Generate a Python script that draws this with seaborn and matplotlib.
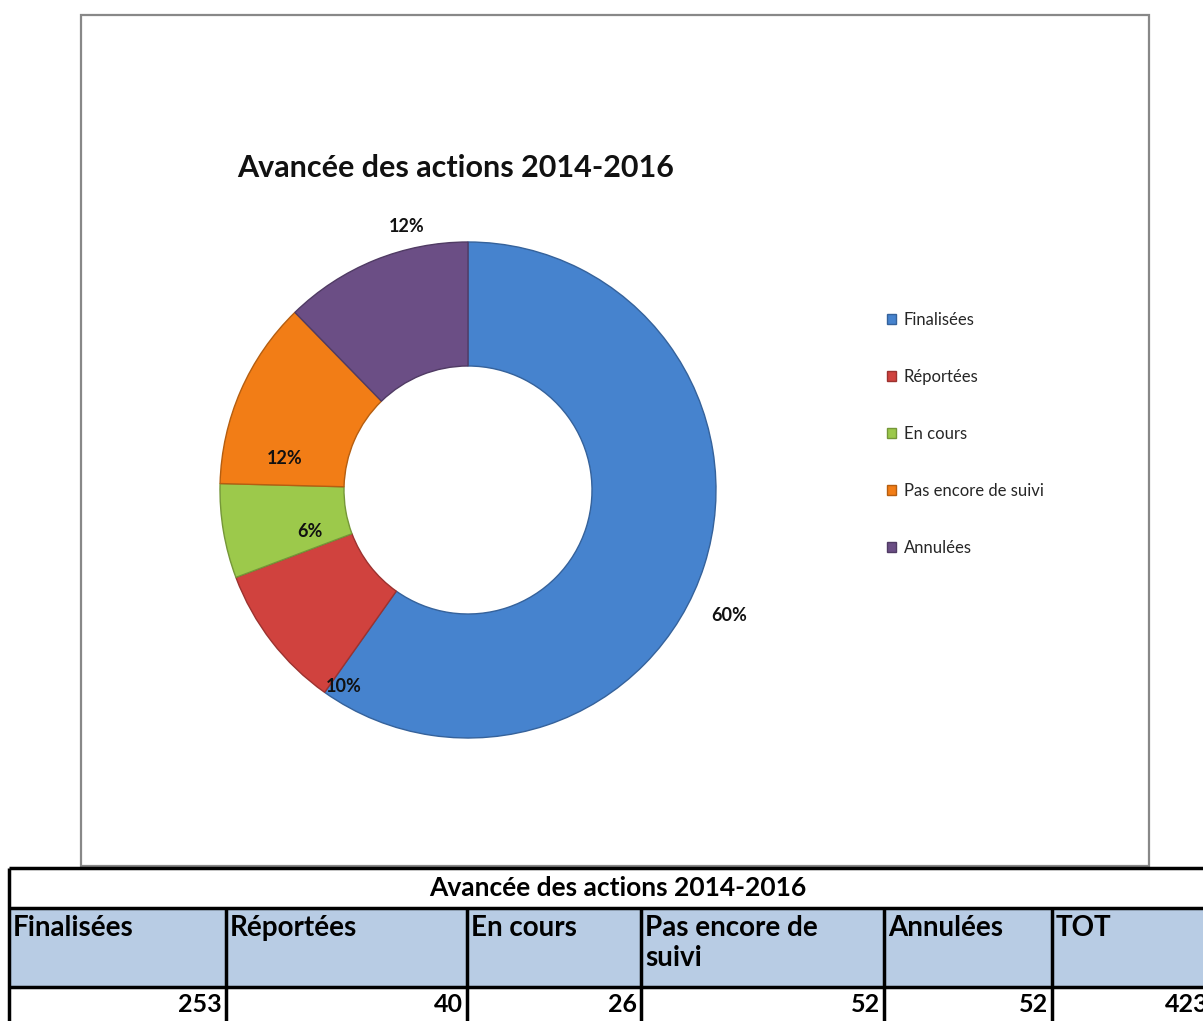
import matplotlib
matplotlib.use("Agg")
import matplotlib.pyplot as plt
from matplotlib.patches import Rectangle
import matplotlib.colors as mcolors
import numpy as np
import seaborn as sns

TITLE = "Avancée des actions 2014-2016"
CATEGORIES = ["Finalisées", "Réportées", "En cours", "Pas encore de suivi", "Annulées"]
COUNTS = [253, 40, 26, 52, 52]
TABLE_HEADERS = ["Finalisées", "Réportées", "En cours", "Pas encore de\nsuivi", "Annulées", "TOT"]
COLORS = ["#4683CE", "#D0423E", "#9CC94B", "#F27D16", "#6B4E85"]

# label placement tweaks (angle offset in degrees, radius factor) to mimic Excel "best fit"
LABEL_PLACE = [(-8, 1.17), (20, 0.94), (5, 0.66), (14, 0.75), (-9, 1.09)]

W, H = 1203, 1021
sns.set_theme(style="white")
plt.rcParams["font.family"] = ["Lato", "DejaVu Sans"]

fig = plt.figure(figsize=(W / 100, H / 100), dpi=100)
ax = fig.add_axes([0, 0, 1, 1])


def Y(y):
    return H - y


def excel_percents(counts):
    # largest remainder rounding, like Excel does so the labels add up to 100
    p = 100 * np.asarray(counts, dtype=float) / sum(counts)
    out = np.floor(p).astype(int)
    extra = 100 - out.sum()
    out[np.argsort(-(p - out))[:extra]] += 1
    return out


# chart frame
ax.add_patch(Rectangle((81, Y(866)), 1149 - 81, 866 - 15, fill=False,
                       edgecolor="#888888", lw=1.6, zorder=1))

# donut
cx, cy, R = 468, Y(490), 248
palette = sns.color_palette(COLORS)
wedges, _ = ax.pie(COUNTS, colors=palette, startangle=90, counterclock=False,
                   radius=R, center=(cx, cy),
                   wedgeprops=dict(width=R * 0.5, linewidth=1.0))
for w, c in zip(wedges, palette):
    w.set_edgecolor([v * 0.75 for v in mcolors.to_rgb(c)])

for w, pct, (da, rf) in zip(wedges, excel_percents(COUNTS), LABEL_PLACE):
    ang = np.deg2rad((w.theta1 + w.theta2) / 2 + da)
    ax.text(cx + rf * R * np.cos(ang), cy + rf * R * np.sin(ang),
            f"{pct}%", ha="center", va="center",
            fontsize=13, fontweight="bold", color="#111111")

ax.text(237, Y(168), TITLE, ha="left", va="center", fontsize=22,
        fontweight="bold", color="#111111")

ax.legend(wedges, CATEGORIES, loc="center left",
          bbox_to_anchor=(887 / W, 1 - 434 / H), frameon=False,
          fontsize=12, handlelength=0.55, handleheight=0.55, handletextpad=0.45,
          labelspacing=2.47, borderpad=0, borderaxespad=0)

# table under the chart
col_x = [9, 226, 467, 641, 884, 1052, 1212]
row_y = [868, 908, 987, 1040]
ax.add_patch(Rectangle((col_x[0], Y(row_y[2])), col_x[-1] - col_x[0],
                       row_y[2] - row_y[1], facecolor="#B8CCE4", edgecolor="none"))
for y in row_y[:3]:
    ax.plot([col_x[0], col_x[-1]], [Y(y), Y(y)], color="black", lw=2.5,
            solid_capstyle="butt")
for i, x in enumerate(col_x):
    top = row_y[0] if i in (0, len(col_x) - 1) else row_y[1]
    ax.plot([x, x], [Y(top), Y(row_y[-1])], color="black", lw=2.5,
            solid_capstyle="butt")

ax.text(618, Y(888), TITLE, ha="center", va="center",
        fontsize=19, fontweight="bold", color="black")
values = COUNTS + [sum(COUNTS)]
for i, (hdr, val) in enumerate(zip(TABLE_HEADERS, values)):
    ax.text(col_x[i] + 4, Y(915), hdr, ha="left", va="top", fontsize=20,
            fontweight="bold", color="black", linespacing=1.2)
    ax.text(col_x[i + 1] - 4, Y(1004), str(val), ha="right", va="center",
            fontsize=18, fontweight="bold", color="black")

ax.set_xlim(0, W)
ax.set_ylim(0, H)
ax.set_aspect("auto")
ax.axis("off")
fig.savefig("out.png", dpi=100)
